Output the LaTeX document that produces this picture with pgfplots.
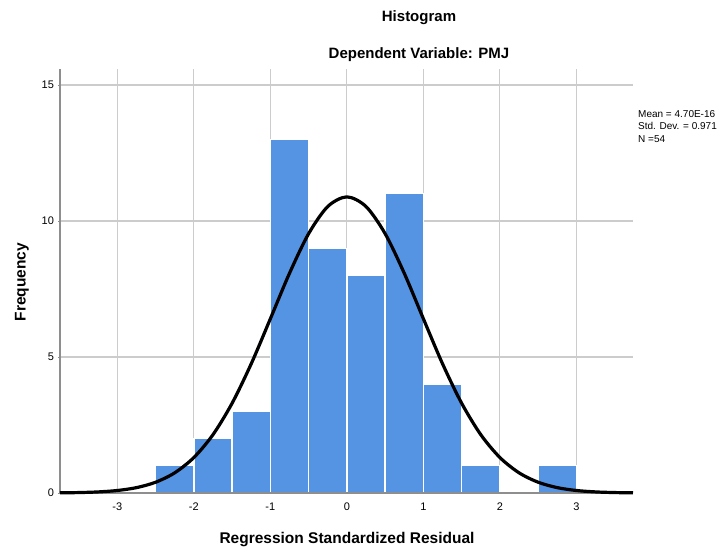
\documentclass[border=0pt]{standalone}
\usepackage{fontspec}
\setmainfont{Liberation Sans}
\usepackage{pgfplots}
\pgfplotsset{compat=1.18}
\definecolor{barblue}{HTML}{5594E3}
\definecolor{gridgray}{HTML}{CCCCCC}
\definecolor{axgray}{HTML}{8E8E8E}

\begin{document}
\begin{tikzpicture}
% canvas: 1pt per pixel of the 724x552 reference, axis corner at (60,493)
\useasboundingbox (-60pt,-59pt) rectangle (664pt,493pt);
\begin{axis}[
  at={(0,0)}, anchor=south west,
  scale only axis, width=573pt, height=424pt,
  xmin=-3.75, xmax=3.74, ymin=0, ymax=15.59,
  axis lines=left, axis line style={draw=axgray, line width=1.3pt, -},
  xtick={-3,-2,-1,0,1,2,3}, ytick={0,5,10,15},
  grid=major, major grid style={gridgray, line width=1.1pt},
  xtick style={draw=none},
  ytick style={draw=axgray, line width=0.8pt}, major tick length=3pt,
  tick label style={font=\fontsize{11}{13}\selectfont, text=black},
  /pgf/number format/assume math mode=true,
  xticklabel style={yshift=-5pt},
  yticklabel style={xshift=-1pt},
  clip=false,
]
\addplot[ybar interval, fill=barblue, draw=white, line width=1.3pt] coordinates
  {(-2.5,1)(-2.0,2)(-1.5,3)(-1.0,13)(-0.5,9)(0.0,8)(0.5,11)(1.0,4)(1.5,1)(2.0,0)(2.5,1)(3.0,1)};
% baseline redrawn over the white bar outlines
\draw[axgray, line width=1.3pt] (axis cs:-3.75,0) -- (axis cs:3.74,0);
\addplot[black, line width=3.2pt, smooth] coordinates
  {(-3.75,0.006)(-3.5,0.016)(-3.25,0.040)(-3.0,0.092)(-2.75,0.197)(-2.5,0.396)(-2.25,0.743)
   (-2.0,1.305)(-1.75,2.146)(-1.5,3.302)(-1.25,4.754)(-1.0,6.407)(-0.75,8.080)(-0.5,9.536)
   (-0.25,10.533)(0.0,10.888)(0.25,10.533)(0.5,9.536)(0.75,8.080)(1.0,6.407)(1.25,4.754)
   (1.5,3.302)(1.75,2.146)(2.0,1.305)(2.25,0.743)(2.5,0.396)(2.75,0.197)(3.0,0.092)
   (3.25,0.040)(3.5,0.016)(3.74,0.006)};
\end{axis}
\node[font=\fontsize{15}{18}\selectfont\bfseries] at (359pt,475pt) {Histogram};
\node[font=\fontsize{15}{18}\selectfont\bfseries] at (359pt,438pt) {Dependent Variable: PMJ};
\node[font=\fontsize{15.5}{18}\selectfont\bfseries] at (287pt,-47pt) {Regression Standardized Residual};
\node[font=\fontsize{15.5}{18}\selectfont\bfseries, rotate=90] at (-38pt,211pt) {Frequency};
\node[font=\fontsize{10}{12.5}\selectfont, anchor=north west, align=left, inner sep=0pt]
  at (578pt,383pt) {Mean = 4.70E-16\\Std. Dev. = 0.971\\N =54};
\end{tikzpicture}
\end{document}
